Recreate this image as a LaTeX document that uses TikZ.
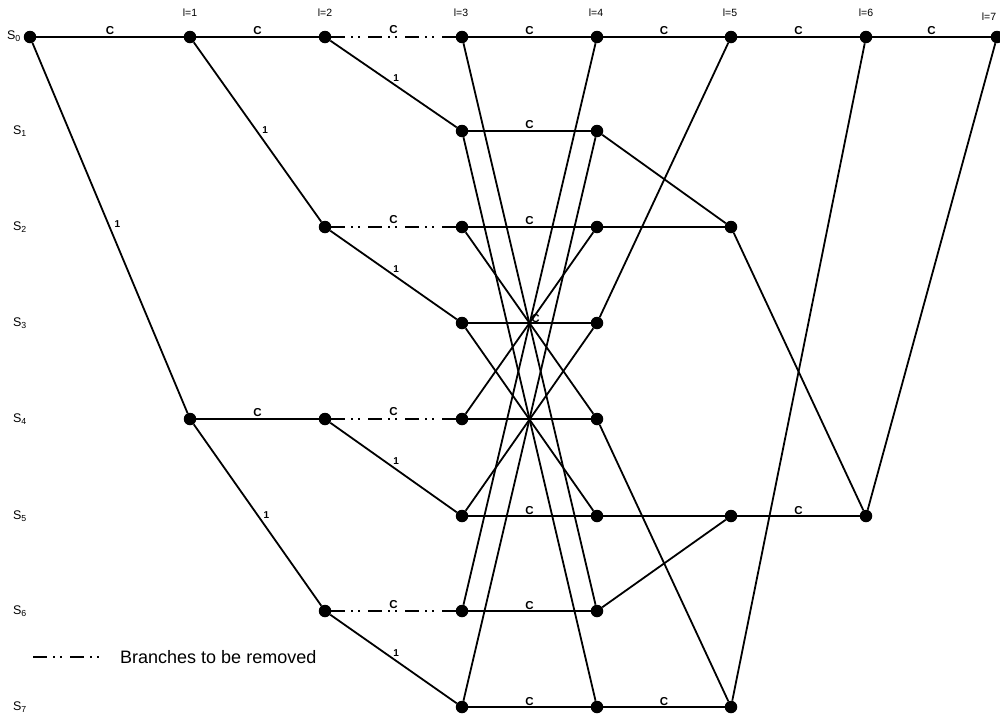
\documentclass[tikz,border=0pt]{standalone}
\usepackage{fontspec}
\setmainfont{Liberation Sans}
\begin{document}
\begin{tikzpicture}[x=1pt,y=-1pt,
  dot/.style={circle,fill=black,inner sep=0pt,minimum size=12.5pt},
  br/.style={line width=1.8pt},
  rm/.style={line width=1.8pt,dash pattern=on 14pt off 6pt on 2pt off 5pt on 2pt off 8pt},
  lab/.style={font=\fontsize{11.5}{11.5}\selectfont\bfseries,inner sep=1pt},
  one/.style={font=\fontsize{10}{10}\selectfont\bfseries,inner sep=0pt},
  tl/.style={font=\fontsize{10.5}{11}\selectfont,inner sep=0pt},
  st/.style={font=\fontsize{12.5}{12.5}\selectfont,inner sep=0pt}]
\useasboundingbox (0,0) rectangle (1000,716);
% grid coordinates
\foreach \c/\xx in {0/30,1/190,2/325,3/462,4/597,5/731,6/866,7/997}
  \foreach \r/\yy in {0/37,1/131,2/227,3/323,4/419,5/516,6/611,7/707}
    \coordinate (p\c-\r) at (\xx,\yy);
% existing trellis states
\foreach \c/\r in {0/0,1/0,1/4,2/0,2/2,2/4,2/6,3/0,3/1,3/2,3/3,3/4,3/5,3/6,3/7,
                   4/0,4/1,4/2,4/3,4/4,4/5,4/6,4/7,5/0,5/2,5/5,5/7,6/0,6/5,7/0}
  \node[dot] (n\c\r) at (p\c-\r) {};
% state labels
\node[st] (s0) at (14,36) {S\textsubscript{0}};
\foreach \r/\yy in {1/131,2/227,3/323,4/419,5/516,6/611,7/707}
  \node[st] (s\r) at (20,\yy) {S\textsubscript{\r}};
% stage labels
\foreach \c/\xx in {1/190,2/325,3/461,4/596,5/730,6/866}
  \node[tl] (l\c) at (\xx,13) {l=\c};
\node[tl] (l7) at (989,17) {l=7};
% l0 -> l1
\draw[br] (n00) -- node[lab,above]{C} (n10);
\draw[br] (n00) -- node[one,pos=0.49,xshift=9pt]{1} (n14);
% l1 -> l2
\draw[br] (n10) -- node[lab,above]{C} (n20);
\draw[br] (n10) -- node[one,pos=0.49,xshift=9pt]{1} (n22);
\draw[br] (n14) -- node[lab,above]{C} (n24);
\draw[br] (n14) -- node[one,pos=0.5,xshift=9pt]{1} (n26);
% l2 -> l3
\foreach \r/\s in {0/1,2/3,4/5,6/7}{
  \draw[rm] (n2\r) -- node[lab,above,yshift=1pt]{C} (n3\r);
  \draw[br] (n2\r) -- node[one,pos=0.52,yshift=8pt]{1} (n3\s);
}
% l3 -> l4 horizontals
\foreach \r in {0,1,2,5,6,7}
  \draw[br] (n3\r) -- node[lab,above]{C} (n4\r);
\draw[br] (n33) -- node[lab,pos=0.55,above,yshift=-2pt]{C} (n43);
\draw[br] (n34) -- (n44);
% l3 -> l4 crossings (s xor 6)
\foreach \a/\b in {0/6,1/7,2/4,3/5,4/2,5/3,6/0,7/1}
  \draw[br] (n3\a) -- (n4\b);
% l4 -> l5
\draw[br] (n40) -- node[lab,above]{C} (n50);
\draw[br] (n41) -- (n52);
\draw[br] (n42) -- (n52);
\draw[br] (n43) -- (n50);
\draw[br] (n44) -- (n57);
\draw[br] (n45) -- (n55);
\draw[br] (n46) -- (n55);
\draw[br] (n47) -- node[lab,above]{C} (n57);
% l5 -> l6
\draw[br] (n50) -- node[lab,above]{C} (n60);
\draw[br] (n52) -- (n65);
\draw[br] (n55) -- node[lab,above]{C} (n65);
\draw[br] (n57) -- (n60);
% l6 -> l7
\draw[br] (n60) -- node[lab,above]{C} (n70);
\draw[br] (n65) -- (n70);
% legend
\coordinate (lg1) at (33,657);
\coordinate (lg2) at (102,657);
\draw[rm] (lg1) -- (lg2);
\node[font=\fontsize{18}{18}\selectfont,anchor=west,inner sep=0pt] (lgt) at (120,657) {Branches to be removed};
\end{tikzpicture}
\end{document}
